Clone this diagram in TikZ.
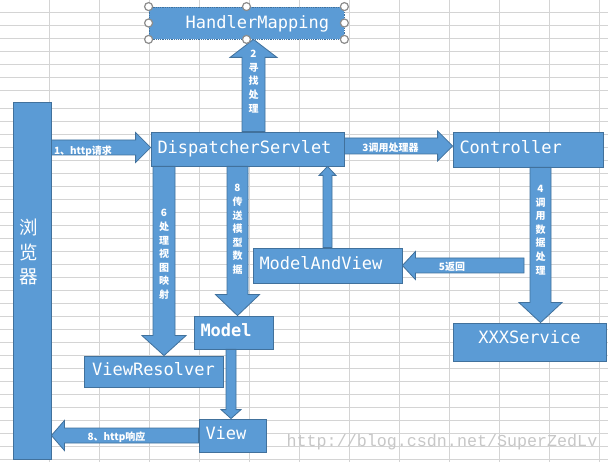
\documentclass[tikz,border=0pt]{standalone}
\usepackage{fontspec}
\setmonofont{DejaVu Sans Mono}
\newfontfamily\cjk{Noto Sans CJK SC}
\newfontfamily\markfont{Liberation Mono}
\usetikzlibrary{calc}

\definecolor{boxfill}{HTML}{5B9BD5}
\definecolor{boxline}{HTML}{41719C}
\definecolor{gridgray}{HTML}{D4D4D4}
\definecolor{handlegray}{HTML}{8C8C8C}

\newcommand{\boxfont}{\ttfamily\fontsize{17}{20}\selectfont}
\newcommand{\lblfont}{\cjk\bfseries\fontsize{10}{13.6}\selectfont}

\tikzset{
  blockbox/.style={draw=boxline, fill=boxfill, line width=0.8pt, text=white, font=\boxfont,
    inner xsep=6.5pt, inner ysep=0pt, text height=12pt, text depth=3.5pt, align=left},
  arrowbody/.style={draw=boxline, fill=boxfill, line width=0.8pt, line join=miter},
  flowlabel/.style={text=white, font=\lblfont, inner sep=0pt, align=center},
  gridline/.style={draw=gridgray, line width=1pt},
  selhandle/.style={draw=handlegray, fill=white, line width=1.2pt}
}

\newcommand{\blockarrow}[5]{%
  \coordinate (ba-h) at ($(#2)!#5!(#1)$);
  \filldraw[arrowbody] ($(#1)!#3!90:(#2)$) -- ($(ba-h)!#3!-90:(#1)$) -- ($(ba-h)!#4!-90:(#1)$)
    -- (#2) -- ($(ba-h)!#4!90:(#1)$) -- ($(ba-h)!#3!90:(#1)$) -- ($(#1)!#3!-90:(#2)$) -- cycle;
}

\begin{document}
\begin{tikzpicture}[x=1pt,y=-1pt]
\fill[white] (0,0) rectangle (608,462);
\useasboundingbox (0,0) rectangle (608,462);

\foreach \gx in {49,99,...,599} \draw[gridline] (\gx,0) -- (\gx,462);
\foreach \k in {0,...,6} \draw[gridline] (0,{12.3+13*\k}) -- (608,{12.3+13*\k});
\foreach \k in {0,...,27} \draw[gridline] (0,{108.3+13*\k}) -- (608,{108.3+13*\k});

\node[blockbox, minimum width=38pt, minimum height=357pt] (browser) at (32,280.5) {};
\node[blockbox, densely dotted, align=right, inner xsep=15pt, text width=165pt, text depth=0pt, minimum height=32pt] (handler) at (246.5,23) {HandlerMapping};
\node[blockbox, text width=180pt, minimum height=34pt] (dispatcher) at (247.5,149) {DispatcherServlet};
\node[blockbox, text width=137pt, minimum height=35pt] (controller) at (528,149.5) {Controller};
\node[blockbox, align=center, text width=140pt, text depth=9.5pt, minimum height=38pt] (service) at (529.5,342) {XXXService};
\node[blockbox, text width=136pt, minimum height=35pt] (mav) at (327.5,265.5) {ModelAndView};
\node[blockbox, align=center, text width=126pt, minimum height=31pt] (resolver) at (153.5,371.5) {ViewResolver};
\node[blockbox, font=\boxfont\bfseries, text width=66pt, minimum height=33pt] (model) at (233.5,332.5) {Model};
\node[blockbox, text width=54pt, minimum height=33pt] (view) at (232.5,435.5) {View};

\coordinate (a1s) at ($(browser.east |- dispatcher.west)+(0,-1.5)$);
\coordinate (a1t) at (dispatcher.west |- a1s);
\coordinate (a2s) at ($(dispatcher.north)+(6,0)$);
\coordinate (a2t) at (a2s |- handler.south);
\coordinate (a3s) at ($(dispatcher.east)+(0,-3)$);
\coordinate (a3t) at (controller.west |- a3s);
\coordinate (a4s) at ($(controller.south)+(12.5,0)$);
\coordinate (a4t) at (a4s |- service.north);
\coordinate (a5s) at ($(controller.south |- mav.east)+(-4,0)$);
\coordinate (a9t) at (mav.north |- dispatcher.south);
\coordinate (a6t) at ($(resolver.north)+(10.5,0)$);
\coordinate (a6s) at (a6t |- dispatcher.south);
\coordinate (a8t) at ($(model.north)+(4,0)$);
\coordinate (a8s) at (a8t |- dispatcher.south);
\coordinate (a10t) at ($(view.north)+(-1.5,0)$);
\coordinate (a10s) at (a10t |- model.south);
\coordinate (a11t) at (browser.east |- view.west);

\blockarrow{a1s}{a1t}{7.5pt}{15pt}{15pt}
\blockarrow{a2s}{a2t}{11.5pt}{23.5pt}{18pt}
\blockarrow{a3s}{a3t}{8pt}{15pt}{15pt}
\blockarrow{a4s}{a4t}{10.5pt}{21.5pt}{20pt}
\blockarrow{a5s}{mav.east}{7.5pt}{14pt}{13pt}
\blockarrow{mav.north}{a9t}{4.5pt}{8.5pt}{9pt}
\blockarrow{a6s}{a6t}{11pt}{22pt}{20pt}
\blockarrow{a8s}{a8t}{10.5pt}{22pt}{21pt}
\blockarrow{a10s}{a10t}{5pt}{10pt}{9pt}
\blockarrow{view.west}{a11t}{7.5pt}{15pt}{13pt}

\node[flowlabel, font=\cjk\fontsize{18.5}{24.5}\selectfont] (browsertext) at (29,252) {浏\\览\\器};
\node[flowlabel] (lab1) at (83,151) {1、http请求};
\node[flowlabel] (lab2) at (253.5,81.5) {2\\寻\\找\\处\\理};
\node[flowlabel] (lab3) at (390.5,148) {3调用处理器};
\node[flowlabel] (lab4) at (540.5,230) {4\\调\\用\\数\\据\\处\\理};
\node[flowlabel] (lab5) at (452,267) {5返回};
\node[flowlabel] (lab6) at (164,254.5) {6\\处\\理\\视\\图\\映\\射};
\node[flowlabel] (lab8) at (237.5,229.5) {8\\传\\送\\模\\型\\数\\据};
\node[flowlabel] (labresp) at (116.5,437) {8、http响应};

\foreach \a in {north west,north,north east,west,east,south west,south,south east}
  \draw[selhandle] (handler.\a) circle (4pt);

\node[text=black!22, font=\markfont\fontsize{16.7}{18}\selectfont, inner sep=0pt] (mark) at (442,442) {http://blog.csdn.net/SuperZedLv};
\end{tikzpicture}
\end{document}
